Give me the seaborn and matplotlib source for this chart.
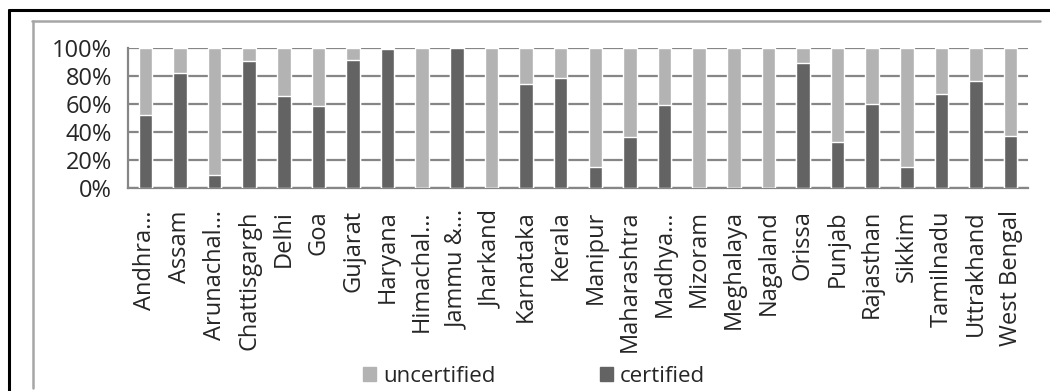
import matplotlib
matplotlib.use("Agg")
import matplotlib.pyplot as plt
from matplotlib.lines import Line2D
from matplotlib.patches import Patch
import seaborn as sns
import pandas as pd
import numpy as np

states = [
    "Andhra…", "Assam", "Arunachal…", "Chattisgargh", "Delhi", "Goa", "Gujarat",
    "Haryana", "Himachal…", "Jammu &…", "Jharkand", "Karnataka", "Kerala",
    "Manipur", "Maharashtra", "Madhya…", "Mizoram", "Meghalaya", "Nagaland",
    "Orissa", "Punjab", "Rajasthan", "Sikkim", "Tamilnadu", "Uttrakhand",
    "West Bengal",
]
certified = [
    52.4, 82.1, 9.0, 90.5, 66.0, 58.3, 91.2,
    99.3, 0.0, 100.0, 0.0, 74.3, 78.3,
    14.8, 36.2, 59.0, 0.0, 0.0, 0.0,
    89.0, 32.9, 60.2, 14.8, 66.9, 76.4,
    37.4,
]
uncertified = [100 - c for c in certified]

DARK = "#636363"
LIGHT = "#b3b3b3"
GRID = "#868686"

df = pd.DataFrame({"state": states, "certified": certified, "uncertified": uncertified})
df["total"] = df["certified"] + df["uncertified"]

sns.set_style("white")
plt.rcParams["font.family"] = ["Open Sans", "DejaVu Sans"]

fig = plt.figure(figsize=(10.5, 3.91), dpi=100)
ax = fig.add_axes([128 / 1050, 1 - 188 / 391, 900 / 1050, 140 / 391])

sns.barplot(data=df, x="state", y="total", color=LIGHT, width=0.39,
            saturation=1, ax=ax, zorder=3)
sns.barplot(data=df, x="state", y="certified", color=DARK, width=0.39,
            saturation=1, ax=ax, zorder=4)

ax.set_ylim(0, 100)
ax.set_xlim(-0.5, len(states) - 0.5)
ax.set_yticks(np.arange(0, 101, 20))
ax.set_yticklabels([f"{v}%" for v in range(0, 101, 20)], fontsize=17)
ax.set_xticks(range(len(states)))
ax.set_xticklabels(states, rotation=90, fontsize=17)
ax.set_xticks(np.arange(-0.5, len(states), 1), minor=True)
ax.tick_params(axis="x", which="major", length=0, pad=16)
ax.tick_params(axis="x", which="minor", length=4.5, width=1.2, color=GRID, direction="out")
ax.tick_params(axis="y", length=4.5, width=1.2, color=GRID, pad=7)
ax.yaxis.grid(True, color=GRID, linewidth=1.6, zorder=0)
ax.set_axisbelow(True)
ax.set_xlabel("")
ax.set_ylabel("")
for side in ["top", "right"]:
    ax.spines[side].set_visible(False)
for side in ["left", "bottom"]:
    ax.spines[side].set_color(GRID)
    ax.spines[side].set_linewidth(1.6)

# frame of the original chart (outer black, inner gray)
fig.add_artist(Line2D([9 / 1050, 1], [1 - 9.5 / 391] * 2, color="black", lw=2.2))
fig.add_artist(Line2D([9 / 1050] * 2, [0, 1 - 9.5 / 391], color="black", lw=2.2))
fig.add_artist(Line2D([32 / 1050, 1040 / 1050], [1 - 20.5 / 391] * 2, color="#a6a6a6", lw=1.8))
fig.add_artist(Line2D([32.5 / 1050] * 2, [3 / 391, 1 - 20.5 / 391], color="#a6a6a6", lw=1.8))

handles = [Patch(color=LIGHT, label="uncertified"), Patch(color=DARK, label="certified")]
fig.legend(handles=handles, loc="center", bbox_to_anchor=(534 / 1050, 1 - 376 / 391),
           ncol=2, frameon=False, fontsize=16, handlelength=0.6, handleheight=0.6,
           handletextpad=0.3, columnspacing=4.7)

fig.savefig("out.png", dpi=100)
